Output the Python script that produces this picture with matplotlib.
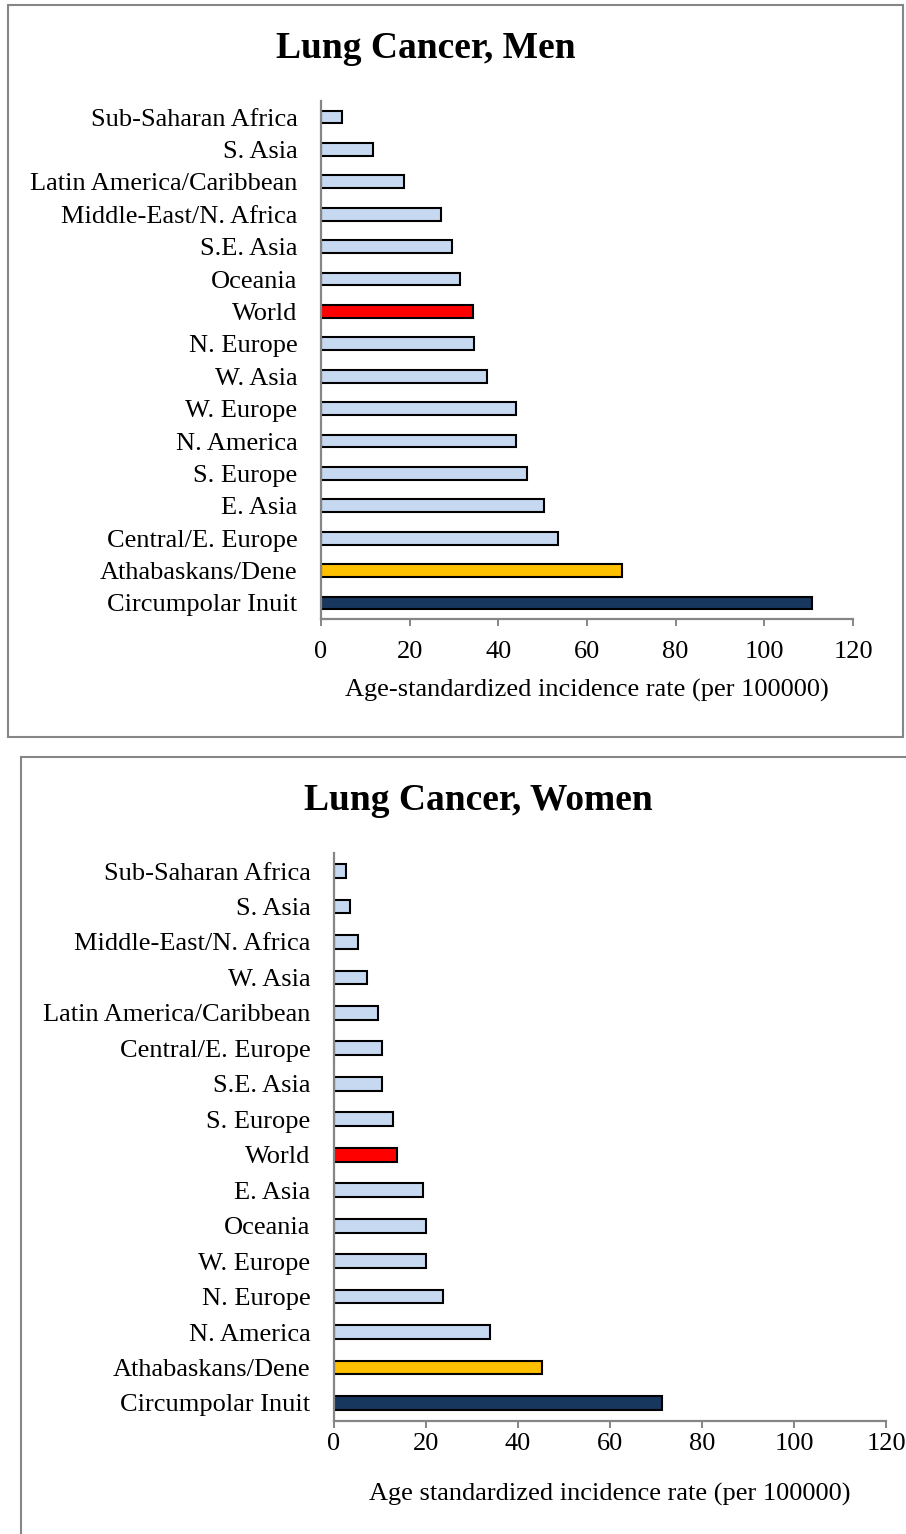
import matplotlib
matplotlib.use("Agg")
import matplotlib.pyplot as plt
from matplotlib.patches import Rectangle

plt.rcParams['font.family'] = ['Liberation Serif', 'DejaVu Serif']

# data, listed from bottom bar to top bar
men_regions = ['Circumpolar Inuit', 'Athabaskans/Dene', 'Central/E. Europe', 'E. Asia',
               'S. Europe', 'N. America', 'W. Europe', 'W. Asia', 'N. Europe', 'World',
               'Oceania', 'S.E. Asia', 'Middle-East/N. Africa', 'Latin America/Caribbean',
               'S. Asia', 'Sub-Saharan Africa']
men_rates = [110.7, 68.0, 53.5, 50.4, 46.4, 43.9, 43.9, 37.5, 34.6, 34.2,
             31.4, 29.6, 27.1, 18.7, 11.8, 4.7]

women_regions = ['Circumpolar Inuit', 'Athabaskans/Dene', 'N. America', 'N. Europe',
                 'W. Europe', 'Oceania', 'E. Asia', 'World', 'S. Europe', 'S.E. Asia',
                 'Central/E. Europe', 'Latin America/Caribbean', 'W. Asia',
                 'Middle-East/N. Africa', 'S. Asia', 'Sub-Saharan Africa']
women_rates = [71.2, 45.2, 33.9, 23.7, 20.0, 20.0, 19.3, 13.6, 12.8, 10.5,
               10.4, 9.6, 7.1, 5.2, 3.4, 2.5]

x_ticks = [0, 20, 40, 60, 80, 100, 120]

LIGHT = '#C6D9F1'
GRAY = '#868686'
special = {'Circumpolar Inuit': '#17375E', 'Athabaskans/Dene': '#FFC000', 'World': '#FF0000'}

W, H = 906, 1534
fig = plt.figure(figsize=(W / 100, H / 100), dpi=100)


def px_box(x0, y0, x1, y1):
    # pixel box (top-left origin) -> figure fraction rect
    return [x0 / W, 1 - y1 / H, (x1 - x0) / W, (y1 - y0) / H]


def draw_panel(rect, regions, rates, title, title_xy, xlabel, tick_pad, label_pad):
    ax = fig.add_axes(rect)
    colors = [special.get(r, LIGHT) for r in regions]
    ax.barh(range(len(regions)), rates, height=0.39, color=colors,
            edgecolor='black', linewidth=1.5)
    ax.set_ylim(-0.5, len(regions) - 0.5)
    ax.set_xlim(0, 120)
    ax.set_xticks(x_ticks)
    ax.set_yticks(range(len(regions)))
    ax.set_yticklabels(regions, fontsize=19)
    ax.tick_params(axis='y', length=0, pad=17)
    ax.tick_params(axis='x', direction='out', length=5, width=1.4, color=GRAY,
                   labelsize=19, pad=tick_pad)
    for s in ['top', 'right']:
        ax.spines[s].set_visible(False)
    for s in ['left', 'bottom']:
        ax.spines[s].set_color(GRAY)
        ax.spines[s].set_linewidth(1.6)
    ax.set_xlabel(xlabel, fontsize=19, labelpad=label_pad)
    fig.text(title_xy[0] / W, 1 - title_xy[1] / H, title, ha='center', va='center',
             fontsize=27, fontweight='bold')
    return ax


draw_panel(px_box(321, 100.8, 853, 619.2), men_regions, men_rates,
           'Lung Cancer, Men', (426, 48),
           'Age-standardized incidence rate (per 100000)', 11, 11)
draw_panel(px_box(334, 853.3, 886, 1420.7), women_regions, women_rates,
           'Lung Cancer, Women', (478, 800),
           'Age standardized incidence rate (per 100000)', 4, 20)

# chart borders
fig.add_artist(Rectangle((8 / W, 1 - 737 / H), (903 - 8) / W, (737 - 5) / H,
                         transform=fig.transFigure, fill=False, edgecolor=GRAY, linewidth=1.5))
fig.add_artist(plt.Line2D([21 / W, 21 / W], [0, 1 - 757 / H], transform=fig.transFigure,
                          color=GRAY, linewidth=1.5))
fig.add_artist(plt.Line2D([21 / W, 1], [1 - 757 / H, 1 - 757 / H], transform=fig.transFigure,
                          color=GRAY, linewidth=1.5))

fig.savefig('out.png', dpi=100)
